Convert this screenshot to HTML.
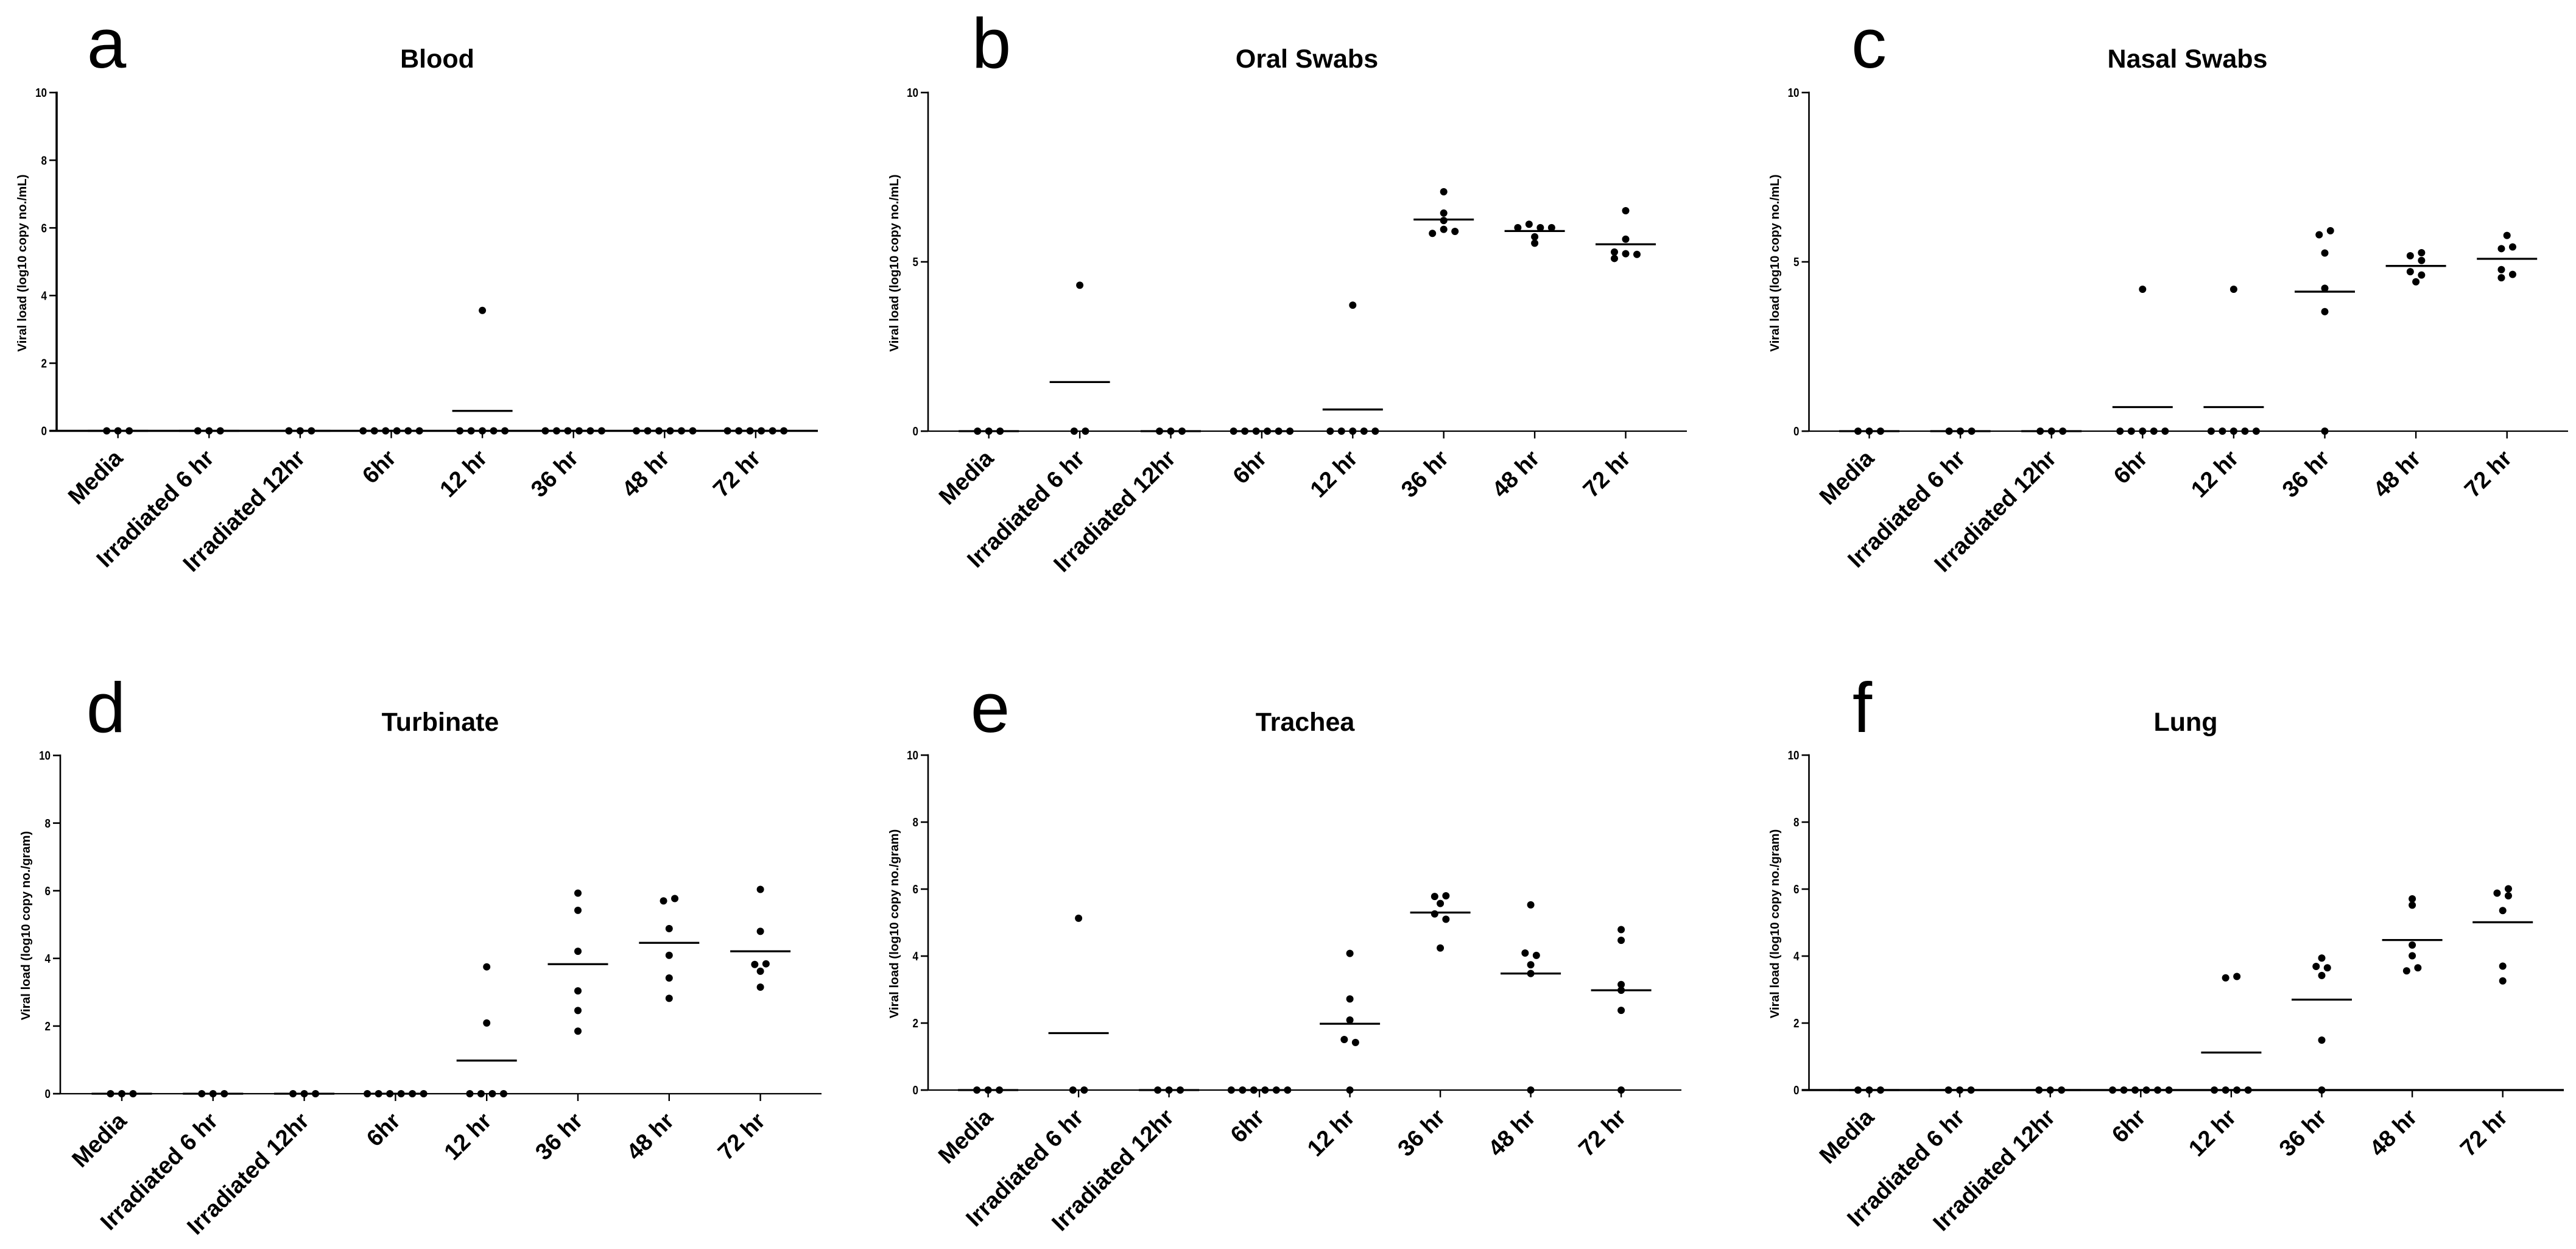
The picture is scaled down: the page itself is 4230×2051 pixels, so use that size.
<!DOCTYPE html>
<html lang="en">
<head>
<meta charset="utf-8">
<title>Viral load panels</title>
<style>
html,body{margin:0;padding:0;background:#fff;}
svg{display:block;}
text{font-family:"Liberation Sans",Arial,sans-serif;fill:#000;}
.letter{font-size:116px;font-weight:400;text-anchor:middle;}
.title{font-size:43px;font-weight:700;text-anchor:middle;}
.ytitle{font-size:20.5px;font-weight:700;text-anchor:middle;}
.ytick{font-size:20px;font-weight:700;text-anchor:end;}
.xtick{font-size:38px;font-weight:700;text-anchor:end;}
</style>
</head>
<body>
<svg id="figure" width="4230" height="2051" viewBox="0 0 4230 2051" xmlns="http://www.w3.org/2000/svg">
  <rect width="4230" height="2051" fill="#fff"/>

  <text class="letter" x="175" y="111">a</text>
  <text class="letter" x="1628" y="111">b</text>
  <text class="letter" x="3069" y="111">c</text>
  <text class="letter" x="174" y="1202">d</text>
  <text class="letter" x="1626" y="1202">e</text>
  <text class="letter" x="3058" y="1202">f</text>

  <text class="title" x="718" y="111">Blood</text>
  <text class="title" x="2146" y="111">Oral Swabs</text>
  <text class="title" x="3592" y="111">Nasal Swabs</text>
  <text class="title" x="723" y="1200">Turbinate</text>
  <text class="title" x="2143" y="1200">Trachea</text>
  <text class="title" x="3589" y="1200">Lung</text>

  <text class="ytitle" transform="translate(43 432) rotate(-90)">Viral load (log10 copy no./mL)</text>
  <text class="ytitle" transform="translate(1475 432) rotate(-90)">Viral load (log10 copy no./mL)</text>
  <text class="ytitle" transform="translate(2921 432) rotate(-90)">Viral load (log10 copy no./mL)</text>
  <text class="ytitle" transform="translate(49 1520) rotate(-90)">Viral load (log10 copy no./gram)</text>
  <text class="ytitle" transform="translate(1475 1517) rotate(-90)">Viral load (log10 copy no./gram)</text>
  <text class="ytitle" transform="translate(2921 1517) rotate(-90)">Viral load (log10 copy no./gram)</text>
</svg>

<script>
// Shared axis data
const categories = ['Media', 'Irradiated 6 hr', 'Irradiated 12hr', '6hr', '12 hr', '36 hr', '48 hr', '72 hr'];
const ticksByTwo = [0, 2, 4, 6, 8, 10];
const ticksByFive = [0, 5, 10];

// Each category holds rows of values binned side by side, left to right (null = empty place in a row).
const bloodRows = [
  [[0, 0, 0]],
  [[0, 0, 0]],
  [[0, 0, 0]],
  [[0, 0, 0, 0, 0, 0]],
  [[3.56], [0, 0, 0, 0, 0]],
  [[0, 0, 0, 0, 0, 0]],
  [[0, 0, 0, 0, 0, 0]],
  [[0, 0, 0, 0, 0, 0]]
];
const bloodMeans = [0, 0, 0, 0, 0.59, 0, 0, 0];

const oralRows = [
  [[0, 0, 0]],
  [[4.31], [0, 0]],
  [[0, 0, 0]],
  [[0, 0, 0, 0, 0, 0]],
  [[3.72], [0, 0, 0, 0, 0]],
  [[7.07], [6.44], [6.22], [5.84, 5.96, 5.9]],
  [[6.01, 6.11, 6.01, 6.01], [5.74], [5.55]],
  [[6.51], [5.67], [5.29, 5.24, 5.22], [5.1, null, null]]
];
const oralMeans = [0, 1.45, 0, 0, 0.64, 6.25, 5.91, 5.52];

const nasalRows = [
  [[0, 0, 0]],
  [[0, 0, 0]],
  [[0, 0, 0]],
  [[4.19], [0, 0, 0, 0, 0]],
  [[4.19], [0, 0, 0, 0, 0]],
  [[5.8, 5.92], [5.26], [4.22], [3.53], [0]],
  [[5.18, 5.27], [null, 5.04], [4.71, 4.61], [4.41]],
  [[5.78], [5.39, 5.44], [4.77, 4.63], [4.53, null]]
];
const nasalMeans = [0, 0, 0, 0.71, 0.71, 4.12, 4.88, 5.09];

const turbinateRows = [
  [[0, 0, 0]],
  [[0, 0, 0]],
  [[0, 0, 0]],
  [[0, 0, 0, 0, 0, 0]],
  [[3.75], [2.09], [0, 0, 0, 0]],
  [[5.93], [5.42], [4.21], [3.04], [2.46], [1.85]],
  [[5.7, 5.77], [4.88], [4.09], [3.42], [2.82]],
  [[6.04], [4.8], [3.82, 3.84], [3.62], [3.15]]
];
const turbinateMeans = [0, 0, 0, 0, 0.98, 3.83, 4.46, 4.21];

const tracheaRows = [
  [[0, 0, 0]],
  [[5.13], [0, 0]],
  [[0, 0, 0]],
  [[0, 0, 0, 0, 0, 0]],
  [[4.08], [2.72], [2.09], [1.51, 1.42], [0]],
  [[5.78, 5.8], [5.57], [5.26, 5.1], [4.24]],
  [[5.53], [4.09, 4.02], [3.74], [3.48], [0]],
  [[4.79], [4.47], [3.15], [2.98], [2.38], [0]]
];
const tracheaMeans = [0, 1.7, 0, 0, 1.98, 5.3, 3.48, 2.98];

const lungRows = [
  [[0, 0, 0]],
  [[0, 0, 0]],
  [[0, 0, 0]],
  [[0, 0, 0, 0, 0, 0]],
  [[3.35, 3.39], [0, 0, 0, 0]],
  [[3.94], [3.69, 3.65], [3.42], [1.49], [0]],
  [[5.71], [5.52], [4.33], [4.01], [3.56, 3.65]],
  [[5.88, 6.01], [null, 5.8], [5.36], [3.7], [3.26]]
];
const lungMeans = [0, 0, 0, 0, 1.12, 2.7, 4.48, 5.01];

// Panel frames
const panels = [
  {key: 'blood',     rows: bloodRows,     means: bloodMeans,     ticks: ticksByTwo,  axisX: 93,     firstX: 193.7,  stepX: 149.6, endX: 1343, top: 152,  zero: 707.5, xw: 3.6, yw: 3.6},
  {key: 'oral',      rows: oralRows,      means: oralMeans,      ticks: ticksByFive, axisX: 1524,   firstX: 1623.7, stepX: 149.4, endX: 2770, top: 152,  zero: 708,   xw: 2.2, yw: 2.6},
  {key: 'nasal',     rows: nasalRows,     means: nasalMeans,     ticks: ticksByFive, axisX: 2970.5, firstX: 3069.5, stepX: 149.6, endX: 4217, top: 152,  zero: 708,   xw: 2.2, yw: 2.6},
  {key: 'turbinate', rows: turbinateRows, means: turbinateMeans, ticks: ticksByTwo,  axisX: 99,     firstX: 200,    stepX: 149.8, endX: 1349, top: 1240.5, zero: 1796, xw: 2.2, yw: 2.6},
  {key: 'trachea',   rows: tracheaRows,   means: tracheaMeans,   ticks: ticksByTwo,  axisX: 1524,   firstX: 1622.6, stepX: 148.5, endX: 2761, top: 1240, zero: 1790,  xw: 2.2, yw: 2.6},
  {key: 'lung',      rows: lungRows,      means: lungMeans,      ticks: ticksByTwo,  axisX: 2970.5, firstX: 3069.5, stepX: 148.6, endX: 4210, top: 1240, zero: 1790,  xw: 3.6, yw: 2.6}
];

const SVG_NS = 'http://www.w3.org/2000/svg';
const figure = document.getElementById('figure');
const TICK_LENGTH = 12;
const DOT_RADIUS = 6;
const DOT_GAP = 18.5;
const MEAN_HALF_WIDTH = 49.5;

function drawLine(parent, x1, y1, x2, y2, width) {
  const line = document.createElementNS(SVG_NS, 'line');
  line.setAttribute('x1', x1);
  line.setAttribute('y1', y1);
  line.setAttribute('x2', x2);
  line.setAttribute('y2', y2);
  line.setAttribute('stroke', '#000');
  line.setAttribute('stroke-width', width);
  parent.appendChild(line);
  return line;
}

function drawPanel(panel) {
  const yScale = function (v) { return panel.zero - v * (panel.zero - panel.top) / 10; };
  const xScale = function (i) { return panel.firstX + i * panel.stepX; };

  const group = document.createElementNS(SVG_NS, 'g');
  
  
  figure.appendChild(group);

  const yAxis = drawLine(group, panel.axisX, yScale(10) - 1.5, panel.axisX, yScale(0) + 1, panel.yw);
  
  

  const xAxis = drawLine(group, panel.axisX - TICK_LENGTH, yScale(0), panel.endX, yScale(0), panel.xw);
  
  

  panel.ticks.forEach(function (t) {
    const y = yScale(t);
    const tick = drawLine(group, panel.axisX - TICK_LENGTH, y, panel.axisX, y, 2.6);
    
    

    const label = document.createElementNS(SVG_NS, 'text');
    label.setAttribute('class', 'ytick');
    label.setAttribute('transform', 'translate(' + (panel.axisX - 16) + ' ' + (y + 7.2) + ') scale(0.85 1)');
    
    
    label.textContent = String(t);
    group.appendChild(label);
  });

  categories.forEach(function (name, i) {
    const x = xScale(i);
    const tick = drawLine(group, x, yScale(0), x, yScale(0) + TICK_LENGTH, 2.4);
    
    

    const label = document.createElementNS(SVG_NS, 'text');
    label.setAttribute('class', 'xtick');
    label.setAttribute('transform', 'translate(' + (x + 10) + ' ' + (yScale(0) + 47) + ') rotate(-45)');
    
    
    label.textContent = name;
    group.appendChild(label);

    const meanLine = drawLine(group, x - MEAN_HALF_WIDTH, yScale(panel.means[i]), x + MEAN_HALF_WIDTH, yScale(panel.means[i]), 3.3);
    
    

    panel.rows[i].forEach(function (row) {
      row.forEach(function (value, place) {
        if (value === null) return;
        const dot = document.createElementNS(SVG_NS, 'circle');
        dot.setAttribute('cx', x + (place - (row.length - 1) / 2) * DOT_GAP);
        dot.setAttribute('cy', yScale(value));
        dot.setAttribute('r', DOT_RADIUS);
        dot.setAttribute('fill', '#000');
        
        
        group.appendChild(dot);
      });
    });
  });
}

panels.forEach(drawPanel);
</script>
</body>
</html>
